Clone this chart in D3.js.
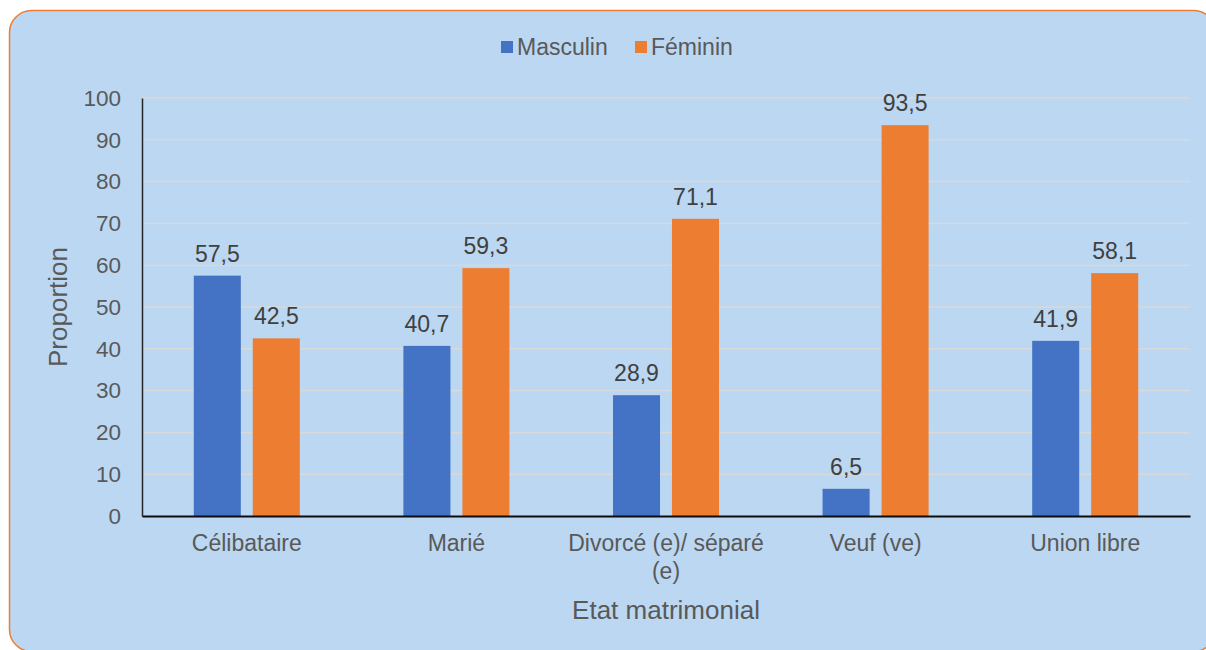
<!DOCTYPE html>
<html>
<head>
<meta charset="utf-8">
<script src="https://cdn.jsdelivr.net/npm/d3@7"></script>
<style>
  body { margin: 0; background: #fff; }
  svg { display: block; font-family: "Liberation Sans", Arial, sans-serif; }
</style>
</head>
<body>
<div id="chart-area"></div>
<script>
// data
var categories = ["Célibataire", "Marié", "Divorcé (e)/ séparé (e)", "Veuf (ve)", "Union libre"];
var series = ["Masculin", "Féminin"];
var masculin = [57.5, 40.7, 28.9, 6.5, 41.9];
var feminin = [42.5, 59.3, 71.1, 93.5, 58.1];
var yTicks = [0, 10, 20, 30, 40, 50, 60, 70, 80, 90, 100];

var data = categories.map((c, i) => ({ cat: c, values: [masculin[i], feminin[i]] }));

var W = 1206, H = 650;
var textColor = "#595959";
var color = d3.scaleOrdinal().domain(series).range(["#4472C4", "#ED7D31"]);

var svg = d3.select("#chart-area").append("svg")
    .attr("width", W)
    .attr("height", H);

// panel
svg.append("rect")
    .attr("x", 9.5).attr("y", 10.5)
    .attr("width", 1206).attr("height", 641)
    .attr("rx", 22).attr("ry", 22)
    .attr("fill", "#BBD7F2")
    .attr("stroke", "#ED7D31")
    .attr("stroke-width", 1.5);

var plotLeft = 142, plotRight = 1190, plotTop = 98, plotBottom = 516;

var x0 = d3.scaleBand()
    .domain(categories)
    .range([plotLeft, plotRight]);

var x1 = d3.scaleBand()
    .domain(series)
    .range([0, x0.bandwidth()])
    .paddingInner(0.203)
    .paddingOuter(0.878);

var y = d3.scaleLinear()
    .domain([0, 100])
    .range([plotBottom, plotTop]);

// gridlines
svg.append("g")
    .selectAll("line")
    .data(yTicks.filter(d => d > 0))
    .enter().append("line")
    .attr("x1", plotLeft).attr("x2", plotRight)
    .attr("y1", d => y(d)).attr("y2", d => y(d))
    .attr("stroke", "#D9D9D9")
    .attr("stroke-width", 1.5);

// y axis
var yAxis = d3.axisLeft(y).tickValues(yTicks).tickSize(0).tickPadding(21);
var gy = svg.append("g")
    .attr("transform", "translate(" + plotLeft + ",0)")
    .call(yAxis);
gy.select(".domain").attr("stroke", "#262626").attr("stroke-width", 1.5);
gy.selectAll("text")
    .attr("fill", textColor)
    .style("font-size", "22.5px")
    .style("font-family", "Liberation Sans, Arial, sans-serif");

// bars
var groups = svg.append("g")
    .selectAll("g")
    .data(data)
    .enter().append("g")
    .attr("transform", d => "translate(" + x0(d.cat) + ",0)");

groups.selectAll("rect")
    .data(d => d.values.map((v, i) => ({ key: series[i], value: v })))
    .enter().append("rect")
    .attr("x", d => x1(d.key))
    .attr("y", d => y(d.value))
    .attr("width", x1.bandwidth())
    .attr("height", d => plotBottom - y(d.value))
    .attr("fill", d => color(d.key));

groups.selectAll("text")
    .data(d => d.values.map((v, i) => ({ key: series[i], value: v })))
    .enter().append("text")
    .attr("x", d => x1(d.key) + x1.bandwidth() / 2)
    .attr("y", d => y(d.value) - 14)
    .attr("text-anchor", "middle")
    .attr("fill", "#404040")
    .style("font-size", "23px")
    .text(d => d3.format(".1f")(d.value).replace(".", ","));

// x axis
var xAxis = d3.axisBottom(x0).tickSize(0).tickPadding(19);
var gx = svg.append("g")
    .attr("transform", "translate(0," + plotBottom + ")")
    .call(xAxis);
gx.select(".domain").attr("stroke", "#0D0D0D").attr("stroke-width", 2);
gx.selectAll("text")
    .attr("fill", textColor)
    .style("font-size", "23px")
    .style("font-family", "Liberation Sans, Arial, sans-serif")
    .each(function(d) {
        var t = d3.select(this);
        if (d === "Divorcé (e)/ séparé (e)") {
            t.text(null);
            t.append("tspan").attr("x", 0).attr("dy", "0.71em").text("Divorcé (e)/ séparé");
            t.append("tspan").attr("x", 0).attr("dy", "1.2em").text("(e)");
            t.attr("dy", null);
        }
    });

// axis titles
svg.append("text")
    .attr("x", (plotLeft + plotRight) / 2)
    .attr("y", 619)
    .attr("text-anchor", "middle")
    .attr("fill", textColor)
    .style("font-size", "26px")
    .text("Etat matrimonial");

svg.append("text")
    .attr("transform", "translate(67," + ((plotTop + plotBottom) / 2) + ") rotate(-90)")
    .attr("text-anchor", "middle")
    .attr("fill", textColor)
    .style("font-size", "26px")
    .text("Proportion");

// legend
var legend = svg.append("g").attr("transform", "translate(501,41)");
var legendX = [0, 134];
series.forEach((s, i) => {
    var g = legend.append("g").attr("transform", "translate(" + legendX[i] + ",0)");
    g.append("rect").attr("width", 12).attr("height", 12).attr("fill", color(s));
    g.append("text")
        .attr("x", 16).attr("y", 14)
        .attr("fill", textColor)
        .style("font-size", "23px")
        .text(s);
});
</script>
</body>
</html>
